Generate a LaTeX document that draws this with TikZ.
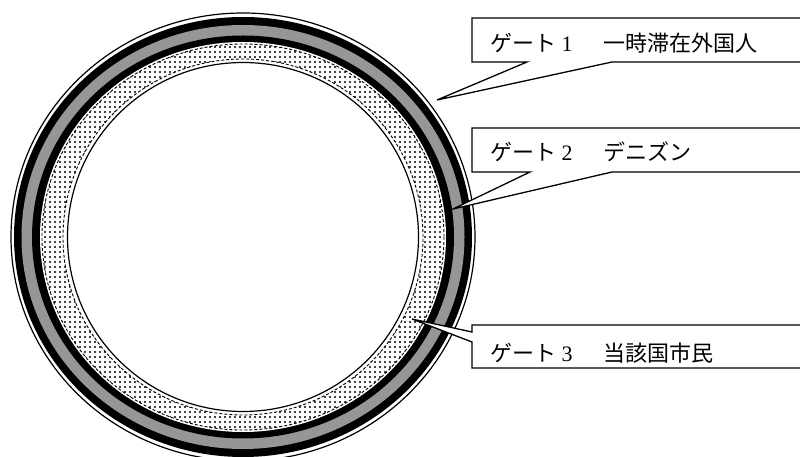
\documentclass[tikz,border=0pt]{standalone}
\usepackage{fontspec}
\setmainfont{Liberation Serif}
\newfontfamily\jpfont{Noto Sans CJK JP}
\usetikzlibrary{patterns}
\definecolor{band_gray}{RGB}{150,150,150}
\pgfdeclarepatternformonly{gatedots}{\pgfpoint{-1.5pt}{-1.5pt}}{\pgfpoint{1.5pt}{1.5pt}}{\pgfpoint{5pt}{5pt}}{\pgfpathcircle{\pgfpointorigin}{1.1pt}\pgfusepath{fill}}

\tikzset{
  callout/.style = {draw, fill = white, line width = 1.3pt, line join = miter},
  gatetext/.style = {anchor = west, inner sep = 0pt, font = \fontsize{22}{26}\selectfont},
  dashring/.style = {dash pattern = on 3pt off 2pt, line width = 0.9pt}
}

\begin{document}
\begin{tikzpicture}[x = 1pt, y = 1pt]
\useasboundingbox (0,0) rectangle (800,457);
\clip (0,0) rectangle (800,457);
\coordinate (c) at (243,220);
% the gates
\draw[line width = 1.2pt] (c) ellipse [x radius = 232, y radius = 224];
\fill[black] (c) ellipse [x radius = 229, y radius = 220];
\fill[band_gray] (c) ellipse [x radius = 221.5, y radius = 212];
\fill[black] (c) ellipse [x radius = 211, y radius = 201.5];
\fill[white] (c) ellipse [x radius = 203, y radius = 195];
\fill[pattern = gatedots, even odd rule] (c) ellipse [x radius = 201, y radius = 193] (c) ellipse [x radius = 180, y radius = 178];
\draw[dashring] (c) ellipse [x radius = 201, y radius = 193];
\draw[dashring] (c) ellipse [x radius = 180, y radius = 178];
\draw[line width = 1.2pt] (c) ellipse [x radius = 175.5, y radius = 174.5];

% callouts
\coordinate (tipone) at (437,357);
\coordinate (tiptwo) at (453,248);
\coordinate (tipthree) at (412,138);
\draw[callout] (472,439) -- (802,439) -- (802,395) -- (612,395) -- (tipone) -- (527,395) -- (472,395) -- cycle;
\draw[callout] (472,329) -- (802,329) -- (802,285) -- (612,285) -- (tiptwo) -- (530,285) -- (472,285) -- cycle;
\draw[callout] (472,132) -- (802,132) -- (802,89) -- (472,89) -- (472,115) -- (tipthree) -- (472,125) -- cycle;

\node[gatetext] (gateone) at (490,414) {{\jpfont ゲート} 1};
\node[gatetext] (gateonename) at (603,414) {\jpfont 一時滞在外国人};
\node[gatetext] (gatetwo) at (490,305) {{\jpfont ゲート} 2};
\node[gatetext] (gatetwoname) at (603,305) {\jpfont デニズン};
\node[gatetext] (gatethree) at (490,104) {{\jpfont ゲート} 3};
\node[gatetext] (gatethreename) at (603,104) {\jpfont 当該国市民};
\end{tikzpicture}
\end{document}
